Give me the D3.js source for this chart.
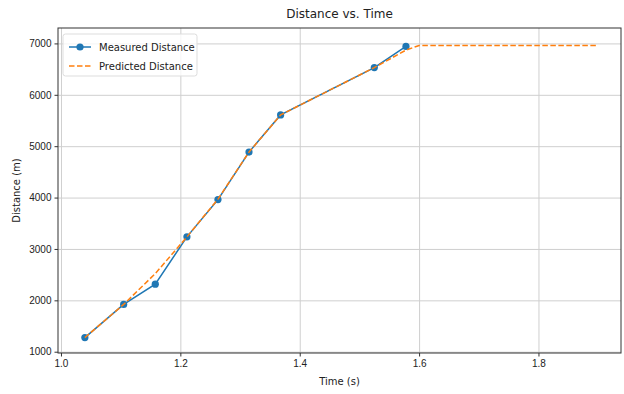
<!DOCTYPE html>
<meta charset="utf-8">
<style>
body { margin: 0; background: #fff; }
svg { font-family: "DejaVu Sans", sans-serif; }
.axis path, .axis line { stroke: #333; }
.axis text { fill: #222; font-size: 10px; }
.grid line { stroke: #cfcfcf; stroke-width: 1; }
.grid path { display: none; }
</style>
<body>
<script src="https://cdn.jsdelivr.net/npm/d3@7"></script>
<script>

var measuredTime = [1.04, 1.105, 1.158, 1.211, 1.263, 1.315, 1.368, 1.525, 1.578];
var measuredDist = [1275, 1920, 2315, 3235, 3960, 4885, 5608, 6530, 6942];

var predictedTime = [1.04, 1.105, 1.158, 1.211, 1.263, 1.315, 1.368, 1.525, 1.578, 1.6, 1.9];
var predictedDist = [1275, 1920, 2520, 3235, 3970, 4885, 5608, 6530, 6870, 6960, 6960];

var xTicks = [1.0, 1.2, 1.4, 1.6, 1.8];
var yTicks = [1000, 2000, 3000, 4000, 5000, 6000, 7000];

var W = 624, H = 394;
var m = {top: 28, right: 3, bottom: 41, left: 58};
var w = W - m.left - m.right, h = H - m.top - m.bottom;

var x = d3.scaleLinear().domain([0.995, 1.9383]).range([0, w]);
var y = d3.scaleLinear().domain([7300, 975]).range([0, h]);

var svg = d3.select("body").append("svg")
    .attr("width", W)
    .attr("height", H);

var g = svg.append("g")
    .attr("transform", "translate(" + m.left + "," + m.top + ")");

g.append("g")
    .attr("class", "grid")
    .attr("transform", "translate(0," + h + ")")
    .call(d3.axisBottom(x).tickValues(xTicks).tickSize(-h).tickFormat(""));

g.append("g")
    .attr("class", "grid")
    .call(d3.axisLeft(y).tickValues(yTicks).tickSize(-w).tickFormat(""));

var measured = measuredTime.map(function(t, i) { return [t, measuredDist[i]]; });
var predicted = predictedTime.map(function(t, i) { return [t, predictedDist[i]]; });

var line = d3.line()
    .x(function(d) { return x(d[0]); })
    .y(function(d) { return y(d[1]); });

g.append("path")
    .datum(measured)
    .attr("fill", "none")
    .attr("stroke", "#1f77b4")
    .attr("stroke-width", 1.5)
    .attr("d", line);

g.selectAll("circle.pt")
    .data(measured)
  .enter().append("circle")
    .attr("class", "pt")
    .attr("cx", function(d) { return x(d[0]); })
    .attr("cy", function(d) { return y(d[1]); })
    .attr("r", 3.6)
    .attr("fill", "#1f77b4");

g.append("path")
    .datum(predicted)
    .attr("fill", "none")
    .attr("stroke", "#ff7f0e")
    .attr("stroke-width", 1.5)
    .attr("stroke-dasharray", "5.5,2.5")
    .attr("d", line);

// frame
g.append("rect")
    .attr("width", w)
    .attr("height", h)
    .attr("fill", "none")
    .attr("stroke", "#333")
    .attr("stroke-width", 1);

g.append("g")
    .attr("class", "axis")
    .attr("transform", "translate(0," + h + ")")
    .call(d3.axisBottom(x).tickValues(xTicks).tickSize(3.5).tickPadding(3).tickFormat(d3.format(".1f")))
    .call(function(s) { s.select(".domain").remove(); });

g.append("g")
    .attr("class", "axis")
    .call(d3.axisLeft(y).tickValues(yTicks).tickSize(3.5).tickPadding(3).tickFormat(d3.format("d")))
    .call(function(s) { s.select(".domain").remove(); });

svg.append("text")
    .attr("x", m.left + w / 2)
    .attr("y", 18)
    .attr("text-anchor", "middle")
    .attr("font-size", 12)
    .attr("fill", "#222")
    .text("Distance vs. Time");

svg.append("text")
    .attr("x", m.left + w / 2)
    .attr("y", 385)
    .attr("text-anchor", "middle")
    .attr("font-size", 10)
    .attr("fill", "#222")
    .text("Time (s)");

svg.append("text")
    .attr("transform", "translate(20," + (m.top + h / 2) + ") rotate(-90)")
    .attr("text-anchor", "middle")
    .attr("font-size", 10)
    .attr("fill", "#222")
    .text("Distance (m)");

// legend
var lg = g.append("g").attr("transform", "translate(5,6)");
lg.append("rect")
    .attr("width", 134)
    .attr("height", 42)
    .attr("rx", 2.5)
    .attr("fill", "#fff")
    .attr("fill-opacity", 0.8)
    .attr("stroke", "#ddd");

var items = [
  {label: "Measured Distance", color: "#1f77b4", dash: null, marker: true},
  {label: "Predicted Distance", color: "#ff7f0e", dash: "5.5,2.5", marker: false}
];

var li = lg.selectAll("g.item")
    .data(items)
  .enter().append("g")
    .attr("class", "item")
    .attr("transform", function(d, i) { return "translate(6," + (13 + i * 19) + ")"; });

li.append("line")
    .attr("x1", 0).attr("x2", 22)
    .attr("stroke", function(d) { return d.color; })
    .attr("stroke-width", 1.5)
    .attr("stroke-dasharray", function(d) { return d.dash; });

li.filter(function(d) { return d.marker; }).append("circle")
    .attr("cx", 11)
    .attr("r", 3.6)
    .attr("fill", function(d) { return d.color; });

li.append("text")
    .attr("x", 30)
    .attr("dy", "0.35em")
    .attr("font-size", 10)
    .attr("fill", "#222")
    .text(function(d) { return d.label; });

</script>
